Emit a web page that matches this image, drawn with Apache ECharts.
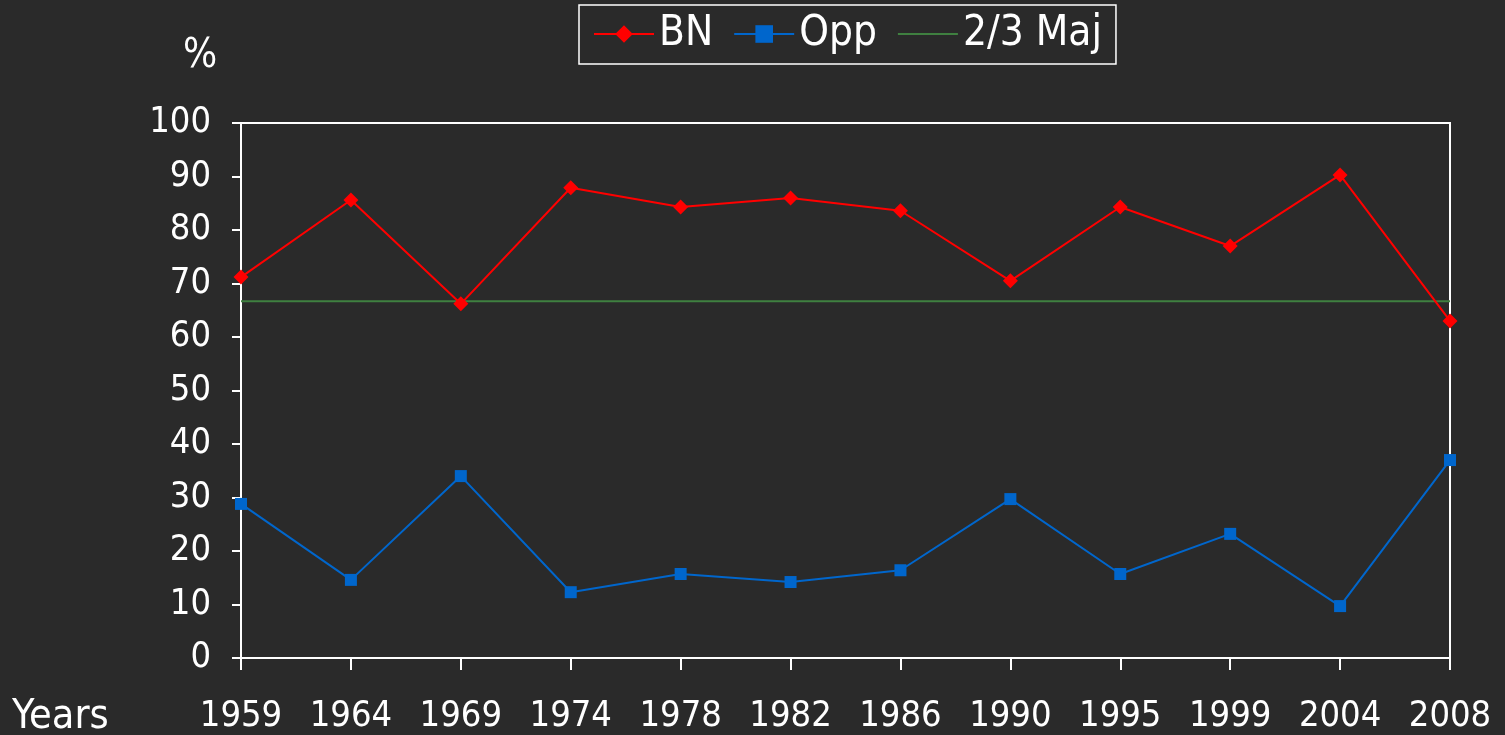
<!DOCTYPE html>
<html lang="en">
<head>
    <meta charset="UTF-8">
    <title>BN vs Opp</title>
    <style>
        html,body{
            width: 100%;
            height: 100%;
            margin: 0;
            padding: 0;
            background: #2a2a2a;
        }
        #chart{
            width: 100%;
            height: 100%;
        }
    </style>
</head>
<body>
    <div id="chart"></div>
    <script src="https://cdn.jsdelivr.net/npm/echarts@6/dist/echarts.min.js"></script>
    <script>
        var years = ['1959', '1964', '1969', '1974', '1978', '1982', '1986', '1990', '1995', '1999', '2004', '2008'];
        var bn  = [71.2, 85.6, 66.2, 87.9, 84.3, 86.0, 83.6, 70.5, 84.3, 77.0, 90.3, 63.0];
        var opp = [28.8, 14.6, 34.0, 12.3, 15.7, 14.2, 16.4, 29.7, 15.7, 23.2, 9.7, 37.0];
        var twoThirds = [66.7, 66.7, 66.7, 66.7, 66.7, 66.7, 66.7, 66.7, 66.7, 66.7, 66.7, 66.7];

        var font = '"DejaVu Sans Condensed", "DejaVu Sans", sans-serif';
        var chart = echarts.init(document.getElementById('chart'));

        var option = {
            backgroundColor: '#2a2a2a',
            animation: false,
            textStyle: { fontFamily: font, color: '#fff' },
            legend: {
                left: 579,
                top: 5,
                padding: [8, 14, 9, 14],
                borderColor: '#fff',
                borderWidth: 1.5,
                itemWidth: 60,
                itemHeight: 22,
                itemGap: 20,
                textStyle: { color: '#fff', fontSize: 42, fontFamily: font },
                data: ['BN', 'Opp', { name: '2/3 Maj', itemStyle: { opacity: 0 } }]
            },
            graphic: [
                { type: 'text', left: 183, top: 37, style: { text: '%', fill: '#fff', fontSize: 40, fontFamily: font } },
                { type: 'text', left: 12, top: 697, style: { text: 'Years', fill: '#fff', fontSize: 41, fontFamily: font } }
            ],
            grid: {
                left: 241,
                right: 55,
                top: 123,
                bottom: 77,
                show: true,
                borderColor: '#fff',
                borderWidth: 2,
                containLabel: false
            },
            xAxis: {
                type: 'category',
                data: years,
                boundaryGap: false,
                axisLine: { lineStyle: { color: '#fff', width: 2 } },
                axisTick: { show: true, alignWithLabel: true, length: 12, lineStyle: { color: '#fff', width: 2 } },
                axisLabel: { color: '#fff', fontSize: 36, fontFamily: font, margin: 41, interval: 0 },
                splitLine: { show: false }
            },
            yAxis: {
                type: 'value',
                min: 0,
                max: 100,
                interval: 10,
                axisLine: { show: true, lineStyle: { color: '#fff', width: 2 } },
                axisTick: { show: true, length: 9, lineStyle: { color: '#fff', width: 2 } },
                axisLabel: { color: '#fff', fontSize: 36, fontFamily: font, margin: 30 },
                splitLine: { show: false }
            },
            series: [
                {
                    name: 'BN',
                    type: 'line',
                    data: bn,
                    symbol: 'diamond',
                    symbolSize: 15,
                    itemStyle: { color: '#ff0000' },
                    lineStyle: { color: '#ff0000', width: 2 },
                    z: 4
                },
                {
                    name: 'Opp',
                    type: 'line',
                    data: opp,
                    symbol: 'rect',
                    symbolSize: 12,
                    itemStyle: { color: '#0066cc' },
                    lineStyle: { color: '#0066cc', width: 2 },
                    z: 4
                },
                {
                    name: '2/3 Maj',
                    type: 'line',
                    data: twoThirds,
                    symbol: 'none',
                    itemStyle: { color: '#3f8040' },
                    lineStyle: { color: '#3f8040', width: 2 },
                    z: 3
                }
            ]
        };
        chart.setOption(option);
    </script>
</body>
</html>
